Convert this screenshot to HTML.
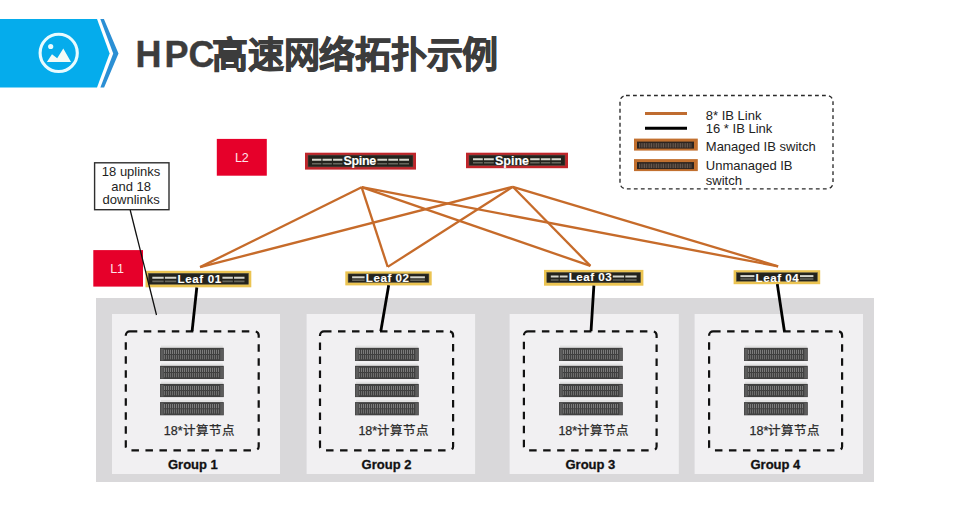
<!DOCTYPE html>
<html lang="zh-CN"><head><meta charset="utf-8">
<style>
html,body{margin:0;padding:0;background:#fff;}
body{width:976px;height:506px;position:relative;overflow:hidden;}
svg{position:absolute;left:0;top:0;font-family:'Liberation Sans', sans-serif;}
</style></head><body>
<svg width="976" height="506" viewBox="0 0 976 506">
<defs>
<pattern id="bays" x="0" y="0" width="2.2" height="10" patternUnits="userSpaceOnUse">
<rect x="0" y="0" width="2.2" height="10" fill="#2e2e2e"/>
<rect x="0.4" y="0" width="1.1" height="10" fill="#7a7a7a"/>
</pattern>
<pattern id="ports" x="0" y="0" width="2.4" height="10" patternUnits="userSpaceOnUse">
<rect x="0" y="0" width="2.4" height="10" fill="#3a302a"/>
<rect x="0.6" y="0" width="1" height="10" fill="#6a5c52"/>
</pattern>
</defs>
<polygon points="0,19 97,19 109.6,53.5 97,87.6 0,87.6" fill="#05acec"/>
<polygon points="100.3,19 103.9,19 118.5,53.5 104.1,87.6 100.4,87.6 113.2,53.5" fill="#2b8fd4"/>
<circle cx="58.7" cy="52.9" r="18.6" fill="none" stroke="#e8fbff" stroke-width="3.1"/>
<circle cx="50.7" cy="46.5" r="2.6" fill="#e8fbff"/>
<polygon points="46.9,61.9 52,54.2 57.2,58.3 63.3,48.6 71,61.9" fill="#f2fbf6"/>
<rect x="96" y="298" width="778" height="184" fill="#d9d8da"/>
<rect x="112" y="314" width="168.0" height="160" fill="#f1f0f2"/>
<rect x="306.6" y="314" width="168.5" height="160" fill="#f1f0f2"/>
<rect x="509.6" y="314" width="169.2" height="160" fill="#f1f0f2"/>
<rect x="694.6" y="314" width="168.4" height="160" fill="#f1f0f2"/>
<rect x="125.8" y="331.3" width="132.9" height="119.1" rx="4" fill="none" stroke="#111" stroke-width="2.2" stroke-dasharray="7.5 6.5"/>
<rect x="320" y="331.3" width="133.1" height="119.1" rx="4" fill="none" stroke="#111" stroke-width="2.2" stroke-dasharray="7.5 6.5"/>
<rect x="523.9" y="331.3" width="132.7" height="119.1" rx="4" fill="none" stroke="#111" stroke-width="2.2" stroke-dasharray="7.5 6.5"/>
<rect x="709.1" y="331.3" width="133.0" height="119.1" rx="4" fill="none" stroke="#111" stroke-width="2.2" stroke-dasharray="7.5 6.5"/>
<rect x="161" y="345.6" width="61.8" height="2.2" fill="#e2e2e2"/>
<rect x="160" y="347.8" width="63.8" height="13.2" fill="#404040"/>
<rect x="160.6" y="348.8" width="3" height="11.7" fill="#5c5c5c"/>
<rect x="220.20000000000002" y="348.8" width="3" height="11.7" fill="#5c5c5c"/>
<line x1="164" y1="351.90000000000003" x2="219.8" y2="351.90000000000003" stroke="#7c7c7c" stroke-width="4.2" stroke-dasharray="1 1"/>
<line x1="164" y1="357.1" x2="219.8" y2="357.1" stroke="#6c6c6c" stroke-width="4.2" stroke-dasharray="1 1"/>
<rect x="161" y="363.6" width="61.8" height="2.2" fill="#e2e2e2"/>
<rect x="160" y="365.8" width="63.8" height="13.2" fill="#404040"/>
<rect x="160.6" y="366.8" width="3" height="11.7" fill="#5c5c5c"/>
<rect x="220.20000000000002" y="366.8" width="3" height="11.7" fill="#5c5c5c"/>
<line x1="164" y1="369.90000000000003" x2="219.8" y2="369.90000000000003" stroke="#7c7c7c" stroke-width="4.2" stroke-dasharray="1 1"/>
<line x1="164" y1="375.1" x2="219.8" y2="375.1" stroke="#6c6c6c" stroke-width="4.2" stroke-dasharray="1 1"/>
<rect x="161" y="381.7" width="61.8" height="2.2" fill="#e2e2e2"/>
<rect x="160" y="383.9" width="63.8" height="13.2" fill="#404040"/>
<rect x="160.6" y="384.9" width="3" height="11.7" fill="#5c5c5c"/>
<rect x="220.20000000000002" y="384.9" width="3" height="11.7" fill="#5c5c5c"/>
<line x1="164" y1="388.0" x2="219.8" y2="388.0" stroke="#7c7c7c" stroke-width="4.2" stroke-dasharray="1 1"/>
<line x1="164" y1="393.2" x2="219.8" y2="393.2" stroke="#6c6c6c" stroke-width="4.2" stroke-dasharray="1 1"/>
<rect x="161" y="399.90000000000003" width="61.8" height="2.2" fill="#e2e2e2"/>
<rect x="160" y="402.1" width="63.8" height="13.2" fill="#404040"/>
<rect x="160.6" y="403.1" width="3" height="11.7" fill="#5c5c5c"/>
<rect x="220.20000000000002" y="403.1" width="3" height="11.7" fill="#5c5c5c"/>
<line x1="164" y1="406.20000000000005" x2="219.8" y2="406.20000000000005" stroke="#7c7c7c" stroke-width="4.2" stroke-dasharray="1 1"/>
<line x1="164" y1="411.40000000000003" x2="219.8" y2="411.40000000000003" stroke="#6c6c6c" stroke-width="4.2" stroke-dasharray="1 1"/>
<text x="163.8" y="435.4" font-size="12.5" font-weight="normal" fill="#2a2a2a" text-anchor="start" stroke="#2a2a2a" stroke-width="0.25">18*计算节点</text>
<text x="168" y="468.8" font-size="13" font-weight="bold" fill="#111" text-anchor="start" stroke="#111" stroke-width="0.3">Group 1</text>
<rect x="356" y="345.6" width="61.8" height="2.2" fill="#e2e2e2"/>
<rect x="355" y="347.8" width="63.8" height="13.2" fill="#404040"/>
<rect x="355.6" y="348.8" width="3" height="11.7" fill="#5c5c5c"/>
<rect x="415.2" y="348.8" width="3" height="11.7" fill="#5c5c5c"/>
<line x1="359" y1="351.90000000000003" x2="414.8" y2="351.90000000000003" stroke="#7c7c7c" stroke-width="4.2" stroke-dasharray="1 1"/>
<line x1="359" y1="357.1" x2="414.8" y2="357.1" stroke="#6c6c6c" stroke-width="4.2" stroke-dasharray="1 1"/>
<rect x="356" y="363.6" width="61.8" height="2.2" fill="#e2e2e2"/>
<rect x="355" y="365.8" width="63.8" height="13.2" fill="#404040"/>
<rect x="355.6" y="366.8" width="3" height="11.7" fill="#5c5c5c"/>
<rect x="415.2" y="366.8" width="3" height="11.7" fill="#5c5c5c"/>
<line x1="359" y1="369.90000000000003" x2="414.8" y2="369.90000000000003" stroke="#7c7c7c" stroke-width="4.2" stroke-dasharray="1 1"/>
<line x1="359" y1="375.1" x2="414.8" y2="375.1" stroke="#6c6c6c" stroke-width="4.2" stroke-dasharray="1 1"/>
<rect x="356" y="381.7" width="61.8" height="2.2" fill="#e2e2e2"/>
<rect x="355" y="383.9" width="63.8" height="13.2" fill="#404040"/>
<rect x="355.6" y="384.9" width="3" height="11.7" fill="#5c5c5c"/>
<rect x="415.2" y="384.9" width="3" height="11.7" fill="#5c5c5c"/>
<line x1="359" y1="388.0" x2="414.8" y2="388.0" stroke="#7c7c7c" stroke-width="4.2" stroke-dasharray="1 1"/>
<line x1="359" y1="393.2" x2="414.8" y2="393.2" stroke="#6c6c6c" stroke-width="4.2" stroke-dasharray="1 1"/>
<rect x="356" y="399.90000000000003" width="61.8" height="2.2" fill="#e2e2e2"/>
<rect x="355" y="402.1" width="63.8" height="13.2" fill="#404040"/>
<rect x="355.6" y="403.1" width="3" height="11.7" fill="#5c5c5c"/>
<rect x="415.2" y="403.1" width="3" height="11.7" fill="#5c5c5c"/>
<line x1="359" y1="406.20000000000005" x2="414.8" y2="406.20000000000005" stroke="#7c7c7c" stroke-width="4.2" stroke-dasharray="1 1"/>
<line x1="359" y1="411.40000000000003" x2="414.8" y2="411.40000000000003" stroke="#6c6c6c" stroke-width="4.2" stroke-dasharray="1 1"/>
<text x="358.4" y="435.4" font-size="12.5" font-weight="normal" fill="#2a2a2a" text-anchor="start" stroke="#2a2a2a" stroke-width="0.25">18*计算节点</text>
<text x="361.6" y="468.8" font-size="13" font-weight="bold" fill="#111" text-anchor="start" stroke="#111" stroke-width="0.3">Group 2</text>
<rect x="560" y="345.6" width="61.8" height="2.2" fill="#e2e2e2"/>
<rect x="559" y="347.8" width="63.8" height="13.2" fill="#404040"/>
<rect x="559.6" y="348.8" width="3" height="11.7" fill="#5c5c5c"/>
<rect x="619.1999999999999" y="348.8" width="3" height="11.7" fill="#5c5c5c"/>
<line x1="563" y1="351.90000000000003" x2="618.8" y2="351.90000000000003" stroke="#7c7c7c" stroke-width="4.2" stroke-dasharray="1 1"/>
<line x1="563" y1="357.1" x2="618.8" y2="357.1" stroke="#6c6c6c" stroke-width="4.2" stroke-dasharray="1 1"/>
<rect x="560" y="363.6" width="61.8" height="2.2" fill="#e2e2e2"/>
<rect x="559" y="365.8" width="63.8" height="13.2" fill="#404040"/>
<rect x="559.6" y="366.8" width="3" height="11.7" fill="#5c5c5c"/>
<rect x="619.1999999999999" y="366.8" width="3" height="11.7" fill="#5c5c5c"/>
<line x1="563" y1="369.90000000000003" x2="618.8" y2="369.90000000000003" stroke="#7c7c7c" stroke-width="4.2" stroke-dasharray="1 1"/>
<line x1="563" y1="375.1" x2="618.8" y2="375.1" stroke="#6c6c6c" stroke-width="4.2" stroke-dasharray="1 1"/>
<rect x="560" y="381.7" width="61.8" height="2.2" fill="#e2e2e2"/>
<rect x="559" y="383.9" width="63.8" height="13.2" fill="#404040"/>
<rect x="559.6" y="384.9" width="3" height="11.7" fill="#5c5c5c"/>
<rect x="619.1999999999999" y="384.9" width="3" height="11.7" fill="#5c5c5c"/>
<line x1="563" y1="388.0" x2="618.8" y2="388.0" stroke="#7c7c7c" stroke-width="4.2" stroke-dasharray="1 1"/>
<line x1="563" y1="393.2" x2="618.8" y2="393.2" stroke="#6c6c6c" stroke-width="4.2" stroke-dasharray="1 1"/>
<rect x="560" y="399.90000000000003" width="61.8" height="2.2" fill="#e2e2e2"/>
<rect x="559" y="402.1" width="63.8" height="13.2" fill="#404040"/>
<rect x="559.6" y="403.1" width="3" height="11.7" fill="#5c5c5c"/>
<rect x="619.1999999999999" y="403.1" width="3" height="11.7" fill="#5c5c5c"/>
<line x1="563" y1="406.20000000000005" x2="618.8" y2="406.20000000000005" stroke="#7c7c7c" stroke-width="4.2" stroke-dasharray="1 1"/>
<line x1="563" y1="411.40000000000003" x2="618.8" y2="411.40000000000003" stroke="#6c6c6c" stroke-width="4.2" stroke-dasharray="1 1"/>
<text x="558.4" y="435.4" font-size="12.5" font-weight="normal" fill="#2a2a2a" text-anchor="start" stroke="#2a2a2a" stroke-width="0.25">18*计算节点</text>
<text x="565.5" y="468.8" font-size="13" font-weight="bold" fill="#111" text-anchor="start" stroke="#111" stroke-width="0.3">Group 3</text>
<rect x="745" y="345.6" width="61.8" height="2.2" fill="#e2e2e2"/>
<rect x="744" y="347.8" width="63.8" height="13.2" fill="#404040"/>
<rect x="744.6" y="348.8" width="3" height="11.7" fill="#5c5c5c"/>
<rect x="804.1999999999999" y="348.8" width="3" height="11.7" fill="#5c5c5c"/>
<line x1="748" y1="351.90000000000003" x2="803.8" y2="351.90000000000003" stroke="#7c7c7c" stroke-width="4.2" stroke-dasharray="1 1"/>
<line x1="748" y1="357.1" x2="803.8" y2="357.1" stroke="#6c6c6c" stroke-width="4.2" stroke-dasharray="1 1"/>
<rect x="745" y="363.6" width="61.8" height="2.2" fill="#e2e2e2"/>
<rect x="744" y="365.8" width="63.8" height="13.2" fill="#404040"/>
<rect x="744.6" y="366.8" width="3" height="11.7" fill="#5c5c5c"/>
<rect x="804.1999999999999" y="366.8" width="3" height="11.7" fill="#5c5c5c"/>
<line x1="748" y1="369.90000000000003" x2="803.8" y2="369.90000000000003" stroke="#7c7c7c" stroke-width="4.2" stroke-dasharray="1 1"/>
<line x1="748" y1="375.1" x2="803.8" y2="375.1" stroke="#6c6c6c" stroke-width="4.2" stroke-dasharray="1 1"/>
<rect x="745" y="381.7" width="61.8" height="2.2" fill="#e2e2e2"/>
<rect x="744" y="383.9" width="63.8" height="13.2" fill="#404040"/>
<rect x="744.6" y="384.9" width="3" height="11.7" fill="#5c5c5c"/>
<rect x="804.1999999999999" y="384.9" width="3" height="11.7" fill="#5c5c5c"/>
<line x1="748" y1="388.0" x2="803.8" y2="388.0" stroke="#7c7c7c" stroke-width="4.2" stroke-dasharray="1 1"/>
<line x1="748" y1="393.2" x2="803.8" y2="393.2" stroke="#6c6c6c" stroke-width="4.2" stroke-dasharray="1 1"/>
<rect x="745" y="399.90000000000003" width="61.8" height="2.2" fill="#e2e2e2"/>
<rect x="744" y="402.1" width="63.8" height="13.2" fill="#404040"/>
<rect x="744.6" y="403.1" width="3" height="11.7" fill="#5c5c5c"/>
<rect x="804.1999999999999" y="403.1" width="3" height="11.7" fill="#5c5c5c"/>
<line x1="748" y1="406.20000000000005" x2="803.8" y2="406.20000000000005" stroke="#7c7c7c" stroke-width="4.2" stroke-dasharray="1 1"/>
<line x1="748" y1="411.40000000000003" x2="803.8" y2="411.40000000000003" stroke="#6c6c6c" stroke-width="4.2" stroke-dasharray="1 1"/>
<text x="749.5" y="435.4" font-size="12.5" font-weight="normal" fill="#2a2a2a" text-anchor="start" stroke="#2a2a2a" stroke-width="0.25">18*计算节点</text>
<text x="750.5" y="468.8" font-size="13" font-weight="bold" fill="#111" text-anchor="start" stroke="#111" stroke-width="0.3">Group 4</text>
<line x1="361.6" y1="187.2" x2="200.1" y2="267.1" stroke="#c66b2a" stroke-width="2.3"/>
<line x1="361.6" y1="187.2" x2="387.7" y2="266.9" stroke="#c66b2a" stroke-width="2.3"/>
<line x1="361.6" y1="187.2" x2="590.4" y2="265.9" stroke="#c66b2a" stroke-width="2.3"/>
<line x1="361.6" y1="187.2" x2="778.1" y2="266.3" stroke="#c66b2a" stroke-width="2.3"/>
<line x1="512.8" y1="186.8" x2="200.1" y2="267.1" stroke="#c66b2a" stroke-width="2.3"/>
<line x1="512.8" y1="186.8" x2="387.7" y2="266.9" stroke="#c66b2a" stroke-width="2.3"/>
<line x1="512.8" y1="186.8" x2="590.4" y2="265.9" stroke="#c66b2a" stroke-width="2.3"/>
<line x1="512.8" y1="186.8" x2="778.1" y2="266.3" stroke="#c66b2a" stroke-width="2.3"/>
<rect x="305" y="152.7" width="111" height="16.9" fill="#c0262b"/>
<rect x="308.0" y="155.1" width="105.0" height="11.8" fill="#23231d" stroke="#55554a" stroke-width="0.5"/>
<line x1="312.0" y1="159.8" x2="342.4" y2="159.8" stroke="#d6d6cc" stroke-width="2" stroke-dasharray="9.33 1.2"/>
<line x1="312.0" y1="163.8" x2="342.4" y2="163.8" stroke="#66665c" stroke-width="1.6" stroke-dasharray="9.33 1.2"/>
<line x1="377.4" y1="159.8" x2="409.0" y2="159.8" stroke="#d6d6cc" stroke-width="2" stroke-dasharray="9.73 1.2"/>
<line x1="377.4" y1="163.8" x2="409.0" y2="163.8" stroke="#66665c" stroke-width="1.6" stroke-dasharray="9.73 1.2"/>
<text x="359.9" y="164.6" text-anchor="middle" font-weight="bold" font-size="12.5" fill="#ffffff" stroke="#ffffff" stroke-width="0.1" textLength="32.6" lengthAdjust="spacing">Spine</text>
<rect x="466" y="152.7" width="102" height="15.5" fill="#c0262b"/>
<rect x="469.0" y="155.1" width="96.0" height="10.4" fill="#23231d" stroke="#55554a" stroke-width="0.5"/>
<line x1="473.0" y1="159.3" x2="493.8" y2="159.3" stroke="#d6d6cc" stroke-width="2" stroke-dasharray="9.80 1.2"/>
<line x1="473.0" y1="162.8" x2="493.8" y2="162.8" stroke="#66665c" stroke-width="1.6" stroke-dasharray="9.80 1.2"/>
<line x1="530.2" y1="159.3" x2="561.0" y2="159.3" stroke="#d6d6cc" stroke-width="2" stroke-dasharray="9.47 1.2"/>
<line x1="530.2" y1="162.8" x2="561.0" y2="162.8" stroke="#66665c" stroke-width="1.6" stroke-dasharray="9.47 1.2"/>
<text x="512.0" y="164.6" text-anchor="middle" font-weight="bold" font-size="12.5" fill="#ffffff" stroke="#ffffff" stroke-width="0.1" textLength="34" lengthAdjust="spacing">Spine</text>
<rect x="145.5" y="270.8" width="105.8" height="16.5" fill="#ebc452"/>
<rect x="148.3" y="273.3" width="100.2" height="11.0" fill="#23231d" stroke="#55554a" stroke-width="0.5"/>
<line x1="152.3" y1="277.7" x2="176.3" y2="277.7" stroke="#d6d6cc" stroke-width="2" stroke-dasharray="11.40 1.2"/>
<line x1="152.3" y1="281.4" x2="176.3" y2="281.4" stroke="#66665c" stroke-width="1.6" stroke-dasharray="11.40 1.2"/>
<line x1="222.4" y1="277.7" x2="244.5" y2="277.7" stroke="#d6d6cc" stroke-width="2" stroke-dasharray="10.45 1.2"/>
<line x1="222.4" y1="281.4" x2="244.5" y2="281.4" stroke="#66665c" stroke-width="1.6" stroke-dasharray="10.45 1.2"/>
<text x="199.3" y="282.7" text-anchor="middle" font-weight="bold" font-size="11.6" fill="#ffffff" stroke="#ffffff" stroke-width="0.1" textLength="43.7" lengthAdjust="spacing">Leaf 01</text>
<rect x="345.3" y="271.4" width="86.4" height="14.0" fill="#ebc452"/>
<rect x="348.1" y="273.9" width="80.8" height="8.5" fill="#23231d" stroke="#55554a" stroke-width="0.5"/>
<line x1="352.1" y1="277.3" x2="364.6" y2="277.3" stroke="#d6d6cc" stroke-width="2" stroke-dasharray="12.50 1.2"/>
<line x1="352.1" y1="280.2" x2="364.6" y2="280.2" stroke="#66665c" stroke-width="1.6" stroke-dasharray="12.50 1.2"/>
<line x1="410.2" y1="277.3" x2="424.9" y2="277.3" stroke="#d6d6cc" stroke-width="2" stroke-dasharray="14.70 1.2"/>
<line x1="410.2" y1="280.2" x2="424.9" y2="280.2" stroke="#66665c" stroke-width="1.6" stroke-dasharray="14.70 1.2"/>
<text x="387.4" y="282.3" text-anchor="middle" font-weight="bold" font-size="11.6" fill="#ffffff" stroke="#ffffff" stroke-width="0.1" textLength="43.2" lengthAdjust="spacing">Leaf 02</text>
<rect x="544.0" y="269.9" width="99.4" height="15.8" fill="#ebc452"/>
<rect x="546.8" y="272.4" width="93.8" height="10.3" fill="#23231d" stroke="#55554a" stroke-width="0.5"/>
<line x1="550.8" y1="276.5" x2="567.6" y2="276.5" stroke="#d6d6cc" stroke-width="2" stroke-dasharray="7.80 1.2"/>
<line x1="550.8" y1="280.0" x2="567.6" y2="280.0" stroke="#66665c" stroke-width="1.6" stroke-dasharray="7.80 1.2"/>
<line x1="612.8" y1="276.5" x2="636.6" y2="276.5" stroke="#d6d6cc" stroke-width="2" stroke-dasharray="11.30 1.2"/>
<line x1="612.8" y1="280.0" x2="636.6" y2="280.0" stroke="#66665c" stroke-width="1.6" stroke-dasharray="11.30 1.2"/>
<text x="590.2" y="281.4" text-anchor="middle" font-weight="bold" font-size="11.6" fill="#ffffff" stroke="#ffffff" stroke-width="0.1" textLength="42.8" lengthAdjust="spacing">Leaf 03</text>
<rect x="733.6" y="270.2" width="86.6" height="14.0" fill="#ebc452"/>
<rect x="736.4" y="272.7" width="81.0" height="8.5" fill="#23231d" stroke="#55554a" stroke-width="0.5"/>
<line x1="740.4" y1="276.1" x2="754.4" y2="276.1" stroke="#d6d6cc" stroke-width="2" stroke-dasharray="14.00 1.2"/>
<line x1="740.4" y1="279.0" x2="754.4" y2="279.0" stroke="#66665c" stroke-width="1.6" stroke-dasharray="14.00 1.2"/>
<line x1="800.0" y1="276.1" x2="813.4" y2="276.1" stroke="#d6d6cc" stroke-width="2" stroke-dasharray="13.40 1.2"/>
<line x1="800.0" y1="279.0" x2="813.4" y2="279.0" stroke="#66665c" stroke-width="1.6" stroke-dasharray="13.40 1.2"/>
<text x="777.2" y="281.5" text-anchor="middle" font-weight="bold" font-size="11.6" fill="#ffffff" stroke="#ffffff" stroke-width="0.1" textLength="43.2" lengthAdjust="spacing">Leaf 04</text>
<line x1="196.8" y1="287.5" x2="192.1" y2="331.2" stroke="#000" stroke-width="2.8"/>
<line x1="388.7" y1="285.3" x2="380.8" y2="331.2" stroke="#000" stroke-width="2.8"/>
<line x1="593.9" y1="285.6" x2="591" y2="331.2" stroke="#000" stroke-width="2.8"/>
<line x1="777.3" y1="284.1" x2="784.4" y2="331.2" stroke="#000" stroke-width="2.8"/>
<rect x="620" y="95.5" width="213" height="93.3" rx="6" fill="none" stroke="#2a2a2a" stroke-width="1.35" stroke-dasharray="3.8 3.2"/>
<line x1="645" y1="113.4" x2="687" y2="113.4" stroke="#bf6c30" stroke-width="3"/>
<line x1="645" y1="128.3" x2="687" y2="128.3" stroke="#000" stroke-width="3"/>
<rect x="634" y="138.6" width="63.8" height="12" fill="#c2702f"/>
<rect x="637" y="141.6" width="57" height="7" fill="#2c2420"/>
<rect x="639" y="143.1" width="53" height="4.5" fill="url(#ports)"/>
<rect x="634" y="159.1" width="63.8" height="12" fill="#c2702f"/>
<rect x="637" y="162.1" width="57" height="7" fill="#2c2420"/>
<rect x="639" y="163.6" width="53" height="4.5" fill="url(#ports)"/>
<text x="705.8" y="119.6" font-size="13" font-weight="normal" fill="#222" text-anchor="start" >8* IB Link</text>
<text x="705.8" y="133.4" font-size="13" font-weight="normal" fill="#222" text-anchor="start" >16 * IB Link</text>
<text x="705.8" y="150.7" font-size="13" font-weight="normal" fill="#222" text-anchor="start" >Managed IB switch</text>
<text x="705.8" y="170.2" font-size="13" font-weight="normal" fill="#222" text-anchor="start" >Unmanaged IB</text>
<text x="705.8" y="185" font-size="13" font-weight="normal" fill="#222" text-anchor="start" >switch</text>
<rect x="216.8" y="138.9" width="50" height="36.8" fill="#e6002a"/>
<text x="241.85" y="162" font-size="12.5" font-weight="normal" fill="#ffe4ea" text-anchor="middle" >L2</text>
<rect x="93.3" y="250.1" width="49.7" height="36.5" fill="#e6002a"/>
<text x="117.1" y="272.9" font-size="12.5" font-weight="normal" fill="#ffe4ea" text-anchor="middle" >L1</text>
<rect x="94.6" y="162.8" width="74.4" height="46.9" fill="#fff" stroke="#2e2e2e" stroke-width="1.4"/>
<text x="131.1" y="175.8" font-size="13" font-weight="normal" fill="#1e1e1e" text-anchor="middle" >18 uplinks</text>
<text x="131.1" y="190.6" font-size="13" font-weight="normal" fill="#1e1e1e" text-anchor="middle" >and 18</text>
<text x="131.1" y="204.2" font-size="13" font-weight="normal" fill="#1e1e1e" text-anchor="middle" >downlinks</text>
<line x1="130.2" y1="210" x2="156.5" y2="315" stroke="#111" stroke-width="1.3"/>
<text x="135.6" y="66.8" font-size="36" font-weight="bold" fill="#3c3c3c" stroke="#3c3c3c" stroke-width="0.4">H<tspan dx="3">P</tspan>C<tspan dx="-2.4" dy="1.2" letter-spacing="-0.25" stroke-width="1.0">高速网络拓扑示例</tspan></text>
</svg>
</body></html>
